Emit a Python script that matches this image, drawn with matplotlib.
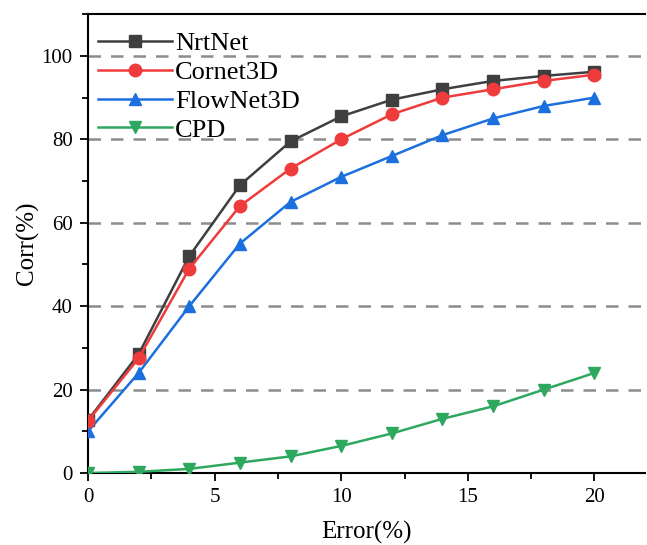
import matplotlib
matplotlib.use("Agg")
import matplotlib.pyplot as plt
from matplotlib.ticker import MultipleLocator

plt.rcParams['font.family'] = ['Liberation Serif', 'DejaVu Serif']

# data
error = [0, 2, 4, 6, 8, 10, 12, 14, 16, 18, 20]
nrtnet = [12.7, 28.5, 52, 69, 79.5, 85.5, 89.5, 92, 94, 95.2, 96.2]
cornet3d = [12.5, 27.5, 49, 64, 73, 80, 86, 90, 92, 94, 95.5]
flownet3d = [10, 24, 40, 55, 65, 71, 76, 81, 85, 88, 90]
cpd = [0, 0.3, 1, 2.5, 4, 6.5, 9.5, 13, 16, 20, 24]

fig = plt.figure(figsize=(6.47, 5.45), dpi=100)
ax = fig.add_axes([0.136, 0.132, 0.861, 0.842])

for yv in [20, 40, 60, 80, 100]:
    ax.axhline(yv, color='#8c8c8c', linestyle=(0, (5, 4)), linewidth=1.8, zorder=1)

ax.plot(error, nrtnet, color='#3f3f3f', marker='s', markersize=8, linewidth=1.8, label='NrtNet', zorder=3)
ax.plot(error, cornet3d, color='#ef3b3b', marker='o', markersize=9, linewidth=1.8, label='Cornet3D', zorder=4)
ax.plot(error, flownet3d, color='#1b6fde', marker='^', markersize=9, linewidth=1.8, label='FlowNet3D', zorder=3)
ax.plot(error, cpd, color='#2ea85f', marker='v', markersize=9, linewidth=1.8, label='CPD', zorder=3)

ax.set_xlim(0, 22)
ax.set_ylim(0, 110)
ax.xaxis.set_major_locator(MultipleLocator(5))
ax.xaxis.set_minor_locator(MultipleLocator(2.5))
ax.yaxis.set_minor_locator(MultipleLocator(10))
ax.set_yticks([0, 20, 40, 60, 80, 100])
ax.tick_params(which='major', direction='out', length=6, width=1.3, labelsize=15, pad=5)
ax.tick_params(which='minor', direction='out', length=4, width=1.3)
ax.spines['right'].set_visible(False)
for s in ['left', 'bottom', 'top']:
    ax.spines[s].set_linewidth(1.5)

ax.set_xlabel('Error(%)', fontsize=18, labelpad=10)
ax.set_ylabel('Corr(%)', fontsize=18, labelpad=2)

ax.legend(loc='upper left', bbox_to_anchor=(-0.005, 0.99), frameon=False, fontsize=19,
          handlelength=2.8, labelspacing=0.2, handletextpad=0.1,
          borderaxespad=0.2, borderpad=0.3)

fig.savefig('out.png', dpi=100)
